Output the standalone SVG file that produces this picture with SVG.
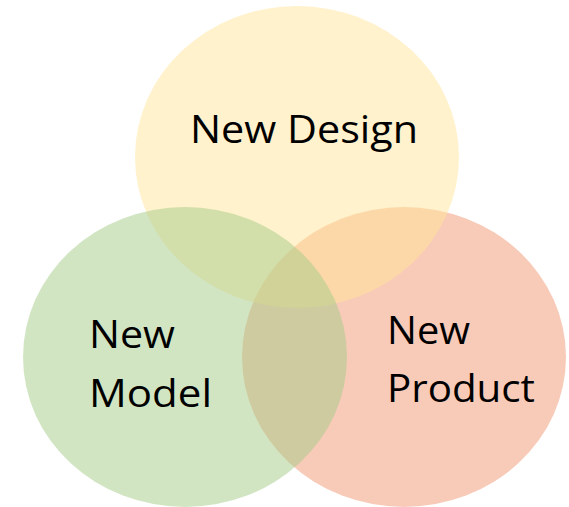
<svg xmlns="http://www.w3.org/2000/svg" width="569" height="507" viewBox="0 0 569 507">
<style>
.c{opacity:0.5}
.t{font-family:"Open Sans",Lato,"Liberation Sans",sans-serif;font-size:38px;fill:#000}
</style>
<rect width="569" height="507" fill="#fff"/>
<g id="product"><ellipse class="c" cx="404" cy="357" rx="162" ry="150" fill="#F19773"/></g>
<g id="design"><ellipse class="c" cx="297" cy="157" rx="162" ry="151" fill="#FFE699"/></g>
<g id="model"><ellipse class="c" cx="185" cy="357" rx="162" ry="150" fill="#A6CC88"/></g>
<g id="connectors"></g>
<g id="labels">
<text class="t" x="190" y="143" textLength="228" lengthAdjust="spacingAndGlyphs">New Design</text>
<text class="t" x="89" y="348" textLength="86" lengthAdjust="spacingAndGlyphs">New</text>
<text class="t" x="89" y="407" textLength="123" lengthAdjust="spacingAndGlyphs">Model</text>
<text class="t" x="387" y="344" textLength="83" lengthAdjust="spacingAndGlyphs">New</text>
<text class="t" x="387" y="402" textLength="148" lengthAdjust="spacingAndGlyphs">Product</text>
</g>
</svg>
